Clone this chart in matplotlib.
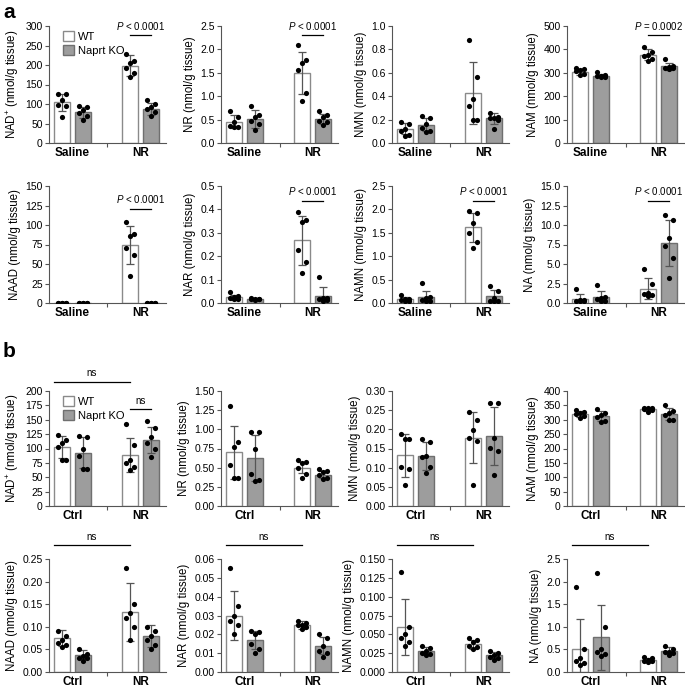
"""NAD metabolite levels in WT vs Naprt KO tissue, panels a and b."""
import matplotlib

matplotlib.use("Agg")
import matplotlib.pyplot as plt
import numpy as np
from matplotlib.patches import Patch
from matplotlib.ticker import FormatStrFormatter, MultipleLocator

plt.rcParams["font.family"] = ["Liberation Sans", "DejaVu Sans"]
plt.rcParams["mathtext.fontset"] = "custom"
plt.rcParams["mathtext.rm"] = "Liberation Sans"
plt.rcParams["mathtext.it"] = "Liberation Sans:italic"
plt.rcParams["mathtext.bf"] = "Liberation Sans:bold"

GENOTYPES = ["WT", "Naprt KO"]
GROUPS_A = ["Saline", "NR"]
GROUPS_B = ["Ctrl", "NR"]

# ---- panel a (bars order: WT saline, KO saline, WT NR, KO NR) ----
A_NAD_MEAN = [104, 79, 198, 88]
A_NAD_SD = [22, 14, 27, 15]
A_NAD_PTS = [[126, 126, 111, 98, 96, 67], [96, 92, 85, 77, 68, 58],
             [228, 209, 205, 192, 180, 170], [110, 100, 92, 87, 80, 68]]

A_NR_MEAN = [0.45, 0.51, 1.50, 0.52]
A_NR_SD = [0.14, 0.19, 0.45, 0.11]
A_NR_PTS = [[0.69, 0.55, 0.45, 0.37, 0.34, 0.34], [0.78, 0.60, 0.55, 0.48, 0.40, 0.27],
            [2.10, 1.78, 1.72, 1.55, 1.07, 0.90], [0.69, 0.60, 0.55, 0.47, 0.44, 0.38]]

A_NMN_MEAN = [0.12, 0.155, 0.425, 0.21]
A_NMN_SD = [0.047, 0.055, 0.265, 0.05]
A_NMN_PTS = [[0.18, 0.16, 0.12, 0.10, 0.07, 0.06], [0.23, 0.21, 0.16, 0.13, 0.10, 0.09],
             [0.88, 0.56, 0.38, 0.32, 0.20, 0.20], [0.26, 0.22, 0.21, 0.21, 0.20, 0.12]]

A_NAM_MEAN = [305, 288, 378, 327]
A_NAM_SD = [13, 7, 22, 16]
A_NAM_PTS = [[322, 315, 310, 308, 295, 290], [305, 290, 287, 285, 283, 282],
             [412, 390, 378, 370, 360, 350], [358, 330, 325, 322, 320, 318]]

A_NAAD_MEAN = [0.4, 0.3, 74, 0.3]
A_NAAD_SD = [0.3, 0.2, 24.5, 0.2]
A_NAAD_PTS = [[0.6, 0.5, 0.4, 0.4, 0.3, 0.2], [0.4, 0.3, 0.3, 0.3, 0.2, 0.2],
              [104, 88, 86, 71, 61, 34], [0.4, 0.3, 0.3, 0.3, 0.2, 0.2]]

A_NAR_MEAN = [0.025, 0.017, 0.268, 0.031]
A_NAR_SD = [0.011, 0.003, 0.105, 0.038]
A_NAR_PTS = [[0.047, 0.030, 0.025, 0.020, 0.018, 0.015], [0.020, 0.019, 0.018, 0.016, 0.015, 0.014],
             [0.39, 0.355, 0.345, 0.225, 0.175, 0.128], [0.11, 0.02, 0.02, 0.015, 0.012, 0.01]]

A_NAMN_MEAN = [0.08, 0.12, 1.62, 0.14]
A_NAMN_SD = [0.04, 0.14, 0.31, 0.13]
A_NAMN_PTS = [[0.17, 0.09, 0.08, 0.06, 0.05, 0.04], [0.42, 0.12, 0.10, 0.06, 0.05, 0.05],
              [1.96, 1.93, 1.72, 1.50, 1.30, 1.18], [0.36, 0.26, 0.10, 0.05, 0.04, 0.04]]

A_NA_MEAN = [0.55, 0.8, 1.85, 7.75]
A_NA_SD = [0.65, 0.75, 1.38, 2.95]
A_NA_PTS = [[1.85, 0.4, 0.35, 0.3, 0.25, 0.2], [2.3, 0.8, 0.6, 0.5, 0.3, 0.3],
            [4.4, 2.5, 1.3, 1.2, 1.0, 0.9], [11.3, 10.7, 8.3, 7.3, 5.8, 3.2]]

# ---- panel b (bars order: WT ctrl, KO ctrl, WT NR, KO NR) ----
B_NAD_MEAN = [102, 93, 89, 115]
B_NAD_SD = [19, 27, 30, 23]
B_NAD_PTS = [[124, 115, 110, 103, 80, 80], [121, 120, 100, 87, 65, 65],
             [143, 106, 80, 74, 67, 63], [147, 136, 120, 110, 100, 85]]

B_NR_MEAN = [0.70, 0.63, 0.50, 0.41]
B_NR_SD = [0.35, 0.30, 0.07, 0.05]
B_NR_PTS = [[1.30, 0.84, 0.77, 0.53, 0.37, 0.36], [0.97, 0.96, 0.74, 0.42, 0.34, 0.33],
            [0.60, 0.57, 0.56, 0.50, 0.42, 0.37], [0.48, 0.46, 0.45, 0.40, 0.36, 0.35]]

B_NMN_MEAN = [0.132, 0.131, 0.178, 0.182]
B_NMN_SD = [0.056, 0.036, 0.066, 0.075]
B_NMN_PTS = [[0.188, 0.176, 0.174, 0.101, 0.097, 0.054], [0.176, 0.167, 0.131, 0.127, 0.101, 0.086],
             [0.244, 0.225, 0.197, 0.178, 0.170, 0.056], [0.268, 0.268, 0.178, 0.151, 0.143, 0.080]]

B_NAM_MEAN = [320, 312, 337, 320]
B_NAM_SD = [9, 18, 5, 20]
B_NAM_PTS = [[333, 328, 325, 320, 313, 305], [337, 325, 318, 310, 295, 292],
             [342, 341, 340, 338, 333, 326], [350, 330, 325, 315, 300, 298]]

B_NAAD_MEAN = [0.075, 0.038, 0.133, 0.08]
B_NAAD_SD = [0.018, 0.010, 0.065, 0.025]
B_NAAD_PTS = [[0.09, 0.08, 0.07, 0.065, 0.06, 0.055], [0.05, 0.04, 0.035, 0.03, 0.03, 0.025],
              [0.23, 0.15, 0.13, 0.12, 0.10, 0.07], [0.10, 0.09, 0.08, 0.07, 0.06, 0.05]]

B_NAR_MEAN = [0.030, 0.017, 0.025, 0.014]
B_NAR_SD = [0.013, 0.005, 0.002, 0.0045]
B_NAR_PTS = [[0.055, 0.035, 0.030, 0.027, 0.025, 0.020], [0.022, 0.021, 0.020, 0.015, 0.012, 0.010],
             [0.027, 0.026, 0.025, 0.025, 0.024, 0.023], [0.020, 0.018, 0.014, 0.011, 0.010, 0.008]]

B_NAMN_MEAN = [0.060, 0.028, 0.037, 0.022]
B_NAMN_SD = [0.037, 0.005, 0.006, 0.004]
B_NAMN_PTS = [[0.133, 0.060, 0.050, 0.045, 0.040, 0.035], [0.035, 0.032, 0.028, 0.025, 0.024, 0.022],
              [0.045, 0.043, 0.040, 0.035, 0.033, 0.030], [0.028, 0.025, 0.022, 0.020, 0.018, 0.016]]

B_NA_MEAN = [0.50, 0.77, 0.27, 0.47]
B_NA_SD = [0.68, 0.72, 0.04, 0.08]
B_NA_PTS = [[1.87, 0.50, 0.30, 0.25, 0.20, 0.15], [2.20, 1.00, 0.50, 0.45, 0.40, 0.35],
            [0.33, 0.30, 0.27, 0.25, 0.24, 0.22], [0.58, 0.50, 0.45, 0.45, 0.43, 0.38]]

W, H = 685, 691
COL_X = [49, 221, 392, 567]
ROW_Y = [(26, 143), (186, 303), (391, 506), (559, 672)]
AX_W = 117

XPOS = np.array([0.0, 1.0, 3.2, 4.2])
JITTER = np.array([-0.2, 0.2, 0.0, -0.2, 0.2, 0.0])
WT_FACE, WT_EDGE = "white", "#8a8a8a"
KO_FACE, KO_EDGE = "#9d9d9d", "#6f6f6f"


def make_ax(fig, col, row):
    top, bottom = ROW_Y[row]
    left = COL_X[col]
    return fig.add_axes([left / W, 1 - bottom / H, AX_W / W, (bottom - top) / H])


def draw(ax, means, sds, pts, ylabel, ymax, step, fmt, groups):
    for i, (m, s, p) in enumerate(zip(means, sds, pts)):
        face, edge = (WT_FACE, WT_EDGE) if i % 2 == 0 else (KO_FACE, KO_EDGE)
        ax.bar(XPOS[i], m, width=0.74, color=face, edgecolor=edge, linewidth=1.0, zorder=1)
        ax.errorbar(XPOS[i], m, yerr=s, color="#555555", capsize=3, elinewidth=0.9,
                    capthick=0.9, zorder=2)
        ax.scatter(XPOS[i] + JITTER[: len(p)], p, s=14, color="black", zorder=3,
                   linewidths=0)
    ax.set_xlim(-0.6, 4.9)
    ax.set_ylim(0, ymax)
    ax.yaxis.set_major_locator(MultipleLocator(step))
    ax.yaxis.set_major_formatter(FormatStrFormatter(fmt))
    ax.set_xticks([(XPOS[0] + XPOS[1]) / 2, (XPOS[2] + XPOS[3]) / 2])
    ax.set_xticklabels(groups, fontweight="bold", fontsize=8.5)
    ax.set_xticks([2.15], minor=True)
    ax.tick_params(axis="x", which="major", length=0, pad=3)
    ax.tick_params(axis="x", which="minor", length=3, width=0.8, color="#555555")
    ax.tick_params(axis="y", length=3, width=0.8, labelsize=7.5, pad=1.5, color="#555555")
    for side in ("top", "right"):
        ax.spines[side].set_visible(False)
    for side in ("left", "bottom"):
        ax.spines[side].set_linewidth(0.8)
        ax.spines[side].set_color("#555555")
    ax.set_ylabel(ylabel, fontsize=8.3, labelpad=3)


def pair_note(ax, text, ymax, y_line=0.92, y_text=0.95):
    ax.plot([XPOS[2], XPOS[3]], [y_line * ymax] * 2, color="black", lw=0.9,
            clip_on=False)
    ax.text((XPOS[2] + XPOS[3]) / 2, y_text * ymax, text, ha="center", va="bottom",
            fontsize=7, clip_on=False)


def long_ns(ax, ymax, y_line, y_text):
    ax.plot([XPOS[0] - 0.36, XPOS[2]], [y_line * ymax] * 2, color="black", lw=0.9,
            clip_on=False)
    ax.text((XPOS[0] - 0.36 + XPOS[2]) / 2, y_text * ymax, "ns", ha="center",
            va="bottom", fontsize=7, clip_on=False)


def add_legend(ax):
    handles = [Patch(facecolor=WT_FACE, edgecolor=WT_EDGE),
               Patch(facecolor=KO_FACE, edgecolor=KO_EDGE)]
    ax.legend(handles, GENOTYPES, loc="upper left", bbox_to_anchor=(0.03, 1.04),
              frameon=False, fontsize=8, handlelength=1.0, handleheight=1.0,
              handletextpad=0.4, labelspacing=0.25)


fig = plt.figure(figsize=(W / 100, H / 100), dpi=100)

P_LT = "$P$ < 0.0001"
unit = " (nmol/g tissue)"

ax = make_ax(fig, 0, 0)
draw(ax, A_NAD_MEAN, A_NAD_SD, A_NAD_PTS, "NAD$^{+}$" + unit, 300, 50, "%d", GROUPS_A)
pair_note(ax, P_LT, 300)
add_legend(ax)

ax = make_ax(fig, 1, 0)
draw(ax, A_NR_MEAN, A_NR_SD, A_NR_PTS, "NR" + unit, 2.5, 0.5, "%.1f", GROUPS_A)
pair_note(ax, P_LT, 2.5)

ax = make_ax(fig, 2, 0)
draw(ax, A_NMN_MEAN, A_NMN_SD, A_NMN_PTS, "NMN" + unit, 1.0, 0.2, "%.1f", GROUPS_A)

ax = make_ax(fig, 3, 0)
draw(ax, A_NAM_MEAN, A_NAM_SD, A_NAM_PTS, "NAM" + unit, 500, 100, "%d", GROUPS_A)
pair_note(ax, "$P$ = 0.0002", 500)

ax = make_ax(fig, 0, 1)
draw(ax, A_NAAD_MEAN, A_NAAD_SD, A_NAAD_PTS, "NAAD" + unit, 150, 25, "%d", GROUPS_A)
pair_note(ax, P_LT, 150, 0.80, 0.84)

ax = make_ax(fig, 1, 1)
draw(ax, A_NAR_MEAN, A_NAR_SD, A_NAR_PTS, "NAR" + unit, 0.5, 0.1, "%.1f", GROUPS_A)
pair_note(ax, P_LT, 0.5, 0.87, 0.91)

ax = make_ax(fig, 2, 1)
draw(ax, A_NAMN_MEAN, A_NAMN_SD, A_NAMN_PTS, "NAMN" + unit, 2.5, 0.5, "%.1f", GROUPS_A)
pair_note(ax, P_LT, 2.5, 0.87, 0.91)

ax = make_ax(fig, 3, 1)
draw(ax, A_NA_MEAN, A_NA_SD, A_NA_PTS, "NA" + unit, 15, 2.5, "%.1f", GROUPS_A)
pair_note(ax, P_LT, 15, 0.87, 0.91)

ax = make_ax(fig, 0, 2)
draw(ax, B_NAD_MEAN, B_NAD_SD, B_NAD_PTS, "NAD$^{+}$" + unit, 200, 25, "%d", GROUPS_B)
long_ns(ax, 200, 1.08, 1.11)
pair_note(ax, "ns", 200, 0.84, 0.87)
add_legend(ax)

ax = make_ax(fig, 1, 2)
draw(ax, B_NR_MEAN, B_NR_SD, B_NR_PTS, "NR" + unit, 1.5, 0.25, "%.2f", GROUPS_B)

ax = make_ax(fig, 2, 2)
draw(ax, B_NMN_MEAN, B_NMN_SD, B_NMN_PTS, "NMN" + unit, 0.30, 0.05, "%.2f", GROUPS_B)

ax = make_ax(fig, 3, 2)
draw(ax, B_NAM_MEAN, B_NAM_SD, B_NAM_PTS, "NAM" + unit, 400, 50, "%d", GROUPS_B)

ax = make_ax(fig, 0, 3)
draw(ax, B_NAAD_MEAN, B_NAAD_SD, B_NAAD_PTS, "NAAD" + unit, 0.25, 0.05, "%.2f", GROUPS_B)
long_ns(ax, 0.25, 1.12, 1.15)

ax = make_ax(fig, 1, 3)
draw(ax, B_NAR_MEAN, B_NAR_SD, B_NAR_PTS, "NAR" + unit, 0.06, 0.01, "%.2f", GROUPS_B)
long_ns(ax, 0.06, 1.12, 1.15)

ax = make_ax(fig, 2, 3)
draw(ax, B_NAMN_MEAN, B_NAMN_SD, B_NAMN_PTS, "NAMN" + unit, 0.15, 0.025, "%.3f", GROUPS_B)
long_ns(ax, 0.15, 1.12, 1.15)

ax = make_ax(fig, 3, 3)
draw(ax, B_NA_MEAN, B_NA_SD, B_NA_PTS, "NA" + unit, 2.5, 0.5, "%.1f", GROUPS_B)
long_ns(ax, 2.5, 1.12, 1.15)

fig.text(3 / W, 1 - 12 / H, "a", fontsize=15, fontweight="bold", va="center")
fig.text(3 / W, 1 - 352 / H, "b", fontsize=15, fontweight="bold", va="center")

fig.savefig("out.png", dpi=100)
